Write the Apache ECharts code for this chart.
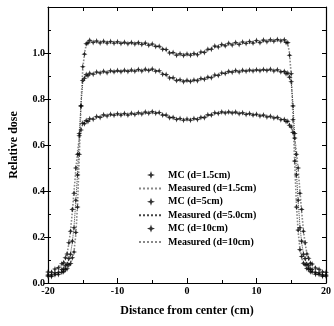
<!DOCTYPE html>
<html>
<head>
<meta charset="utf-8">
<script src="https://cdn.jsdelivr.net/npm/echarts@6/dist/echarts.min.js"></script>
<style>
  html, body { margin: 0; padding: 0; background: #fff; }
  #chart { width: 334px; height: 326px; }
</style>
</head>
<body>
<div id="chart"></div>
<script>
// sample positions (cm from centre)
const xs = [-20,-19.5,-19,-18.5,-18,-17.75,-17.5,-17.25,-17,-16.75,-16.5,-16.25,-16,-15.75,-15.5,-15.25,-15,-14.75,-14.5,-14.25,
  -14,-13.5,-13,-12.5,-12,-11.5,-11,-10.5,-10,-9.5,-9,-8.5,-8,-7.5,-7,-6.5,-6,-5.5,-5,-4.5,-4,-3.5,-3,-2.5,-2,-1.5,-1,-0.5,
  0,0.5,1,1.5,2,2.5,3,3.5,4,4.5,5,5.5,6,6.5,7,7.5,8,8.5,9,9.5,10,10.5,11,11.5,12,12.5,13,13.5,14,
  14.25,14.5,14.75,15,15.25,15.5,15.75,16,16.25,16.5,16.75,17,17.25,17.5,17.75,18,18.5,19,19.5,20];

// measured profiles
const meas15 = [0.027,0.030,0.034,0.039,0.045,0.050,0.056,0.064,0.075,0.088,0.105,0.140,0.210,0.340,0.550,0.780,0.930,1.000,1.035,1.047,
  1.050,1.052,1.048,1.050,1.047,1.049,1.046,1.048,1.045,1.046,1.043,1.045,1.042,1.044,1.041,1.043,1.040,1.038,1.036,1.032,
  1.026,1.020,1.012,1.004,0.998,0.995,0.993,0.994,0.992,0.995,0.993,0.997,1.000,1.006,1.012,1.020,1.026,1.030,1.033,1.036,
  1.038,1.040,1.042,1.041,1.044,1.046,1.045,1.048,1.050,1.049,1.052,1.054,1.053,1.056,1.055,1.057,1.054,
  1.050,1.040,1.000,0.900,0.720,0.520,0.340,0.220,0.150,0.110,0.090,0.076,0.066,0.058,0.052,0.046,0.040,0.035,0.031,0.028];
const meas5 = [0.033,0.037,0.042,0.048,0.056,0.063,0.072,0.085,0.102,0.130,0.175,0.250,0.350,0.480,0.640,0.780,0.870,0.895,0.902,0.905,
  0.908,0.912,0.914,0.916,0.918,0.917,0.920,0.921,0.920,0.922,0.921,0.923,0.922,0.924,0.925,0.924,0.926,0.927,0.927,0.925,
  0.920,0.912,0.903,0.895,0.889,0.884,0.881,0.879,0.878,0.879,0.880,0.883,0.886,0.889,0.892,0.895,0.900,0.905,0.910,0.914,
  0.917,0.919,0.921,0.920,0.922,0.924,0.923,0.925,0.924,0.926,0.925,0.927,0.926,0.925,0.924,0.921,0.917,
  0.914,0.910,0.900,0.870,0.780,0.640,0.480,0.350,0.250,0.175,0.130,0.102,0.085,0.072,0.063,0.056,0.048,0.042,0.037,0.033];
const meas10 = [0.045,0.050,0.058,0.068,0.080,0.090,0.105,0.130,0.170,0.230,0.310,0.400,0.490,0.570,0.630,0.670,0.690,0.697,0.702,0.706,
  0.710,0.716,0.720,0.724,0.727,0.729,0.731,0.732,0.733,0.733,0.734,0.733,0.735,0.736,0.737,0.738,0.740,0.741,0.742,0.741,
  0.738,0.733,0.727,0.722,0.717,0.714,0.712,0.711,0.710,0.711,0.712,0.714,0.717,0.722,0.728,0.733,0.737,0.740,0.741,0.742,
  0.741,0.742,0.740,0.739,0.737,0.736,0.734,0.733,0.731,0.729,0.727,0.725,0.722,0.720,0.717,0.713,0.708,
  0.705,0.700,0.690,0.675,0.660,0.625,0.570,0.490,0.400,0.310,0.230,0.170,0.130,0.105,0.090,0.080,0.068,0.058,0.050,0.045];

// Monte Carlo profiles
const mc15 = [0.030,0.028,0.036,0.037,0.047,0.049,0.058,0.062,0.078,0.085,0.110,0.135,0.220,0.330,0.560,0.770,0.940,0.995,1.040,1.044,
  1.055,1.046,1.052,1.044,1.051,1.043,1.050,1.042,1.049,1.041,1.047,1.040,1.046,1.039,1.045,1.037,1.043,1.034,1.039,1.028,
  1.029,1.016,1.015,1.000,1.002,0.990,0.997,0.989,0.996,0.990,0.998,0.992,1.004,1.002,1.016,1.016,1.030,1.026,1.037,1.031,
  1.042,1.035,1.046,1.037,1.048,1.041,1.050,1.043,1.054,1.045,1.056,1.049,1.058,1.051,1.059,1.052,1.058,
  1.046,1.045,0.990,0.910,0.710,0.530,0.330,0.230,0.145,0.115,0.086,0.079,0.063,0.060,0.049,0.048,0.038,0.037,0.029,0.030];
const mc5 = [0.035,0.035,0.044,0.046,0.059,0.061,0.075,0.082,0.106,0.125,0.182,0.240,0.360,0.470,0.650,0.770,0.880,0.890,0.906,0.901,
  0.912,0.908,0.917,0.913,0.921,0.914,0.923,0.918,0.924,0.919,0.925,0.920,0.926,0.921,0.928,0.922,0.929,0.924,0.930,0.921,
  0.923,0.908,0.906,0.891,0.892,0.880,0.884,0.875,0.881,0.876,0.883,0.879,0.889,0.886,0.895,0.892,0.904,0.902,0.913,0.911,
  0.920,0.916,0.924,0.917,0.925,0.921,0.926,0.922,0.927,0.923,0.928,0.924,0.929,0.922,0.927,0.918,0.920,
  0.910,0.913,0.895,0.875,0.770,0.650,0.470,0.360,0.240,0.182,0.125,0.106,0.082,0.075,0.061,0.059,0.046,0.044,0.035,0.035];
const mc10 = [0.048,0.047,0.061,0.066,0.084,0.088,0.110,0.126,0.175,0.225,0.320,0.390,0.500,0.560,0.640,0.665,0.695,0.692,0.706,0.702,
  0.714,0.712,0.724,0.720,0.731,0.726,0.734,0.729,0.736,0.730,0.737,0.730,0.738,0.733,0.740,0.735,0.743,0.738,0.745,0.738,
  0.741,0.730,0.730,0.719,0.720,0.711,0.715,0.708,0.713,0.708,0.715,0.711,0.720,0.719,0.731,0.730,0.740,0.737,0.744,0.739,
  0.744,0.739,0.743,0.736,0.740,0.733,0.737,0.730,0.734,0.726,0.730,0.722,0.725,0.717,0.720,0.710,0.711,
  0.702,0.703,0.686,0.678,0.655,0.630,0.560,0.500,0.390,0.320,0.225,0.175,0.126,0.108,0.086,0.083,0.065,0.060,0.048,0.047];

const names = ["MC (d=1.5cm)", "Measured (d=1.5cm)", "MC (d=5cm)", "Measured (d=5.0cm)", "MC (d=10cm)", "Measured (d=10cm)"];
const xTicks = [-20, -10, 0, 10, 20];

const font = "Liberation Serif";
const star = "path://M5,0L6.3,3.7L10,5L6.3,6.3L5,10L3.7,6.3L0,5L3.7,3.7Z";
const pts = arr => xs.map((x, i) => [x, arr[i]]);

const measLine = (name, arr, color, width) => ({
  name, type: "line", data: pts(arr), symbol: "none", showSymbol: false, z: 2,
  lineStyle: {color, width, type: "dotted"}, itemStyle: {color}
});
const mcDots = (name, arr) => ({
  name, type: "scatter", data: pts(arr), symbol: star, symbolSize: 6, z: 3,
  itemStyle: {color: "#000"}
});

const chart = echarts.init(document.getElementById("chart"), null, {renderer: "canvas"});
chart.setOption({
  animation: false,
  backgroundColor: "#fff",
  grid: {left: 46, right: 4, top: 7, bottom: 43},
  legend: {
    orient: "vertical", left: 138, top: 170, padding: 0, itemWidth: 24, itemHeight: 8, itemGap: 3.4,
    data: names.map((n, i) => i % 2 ? {name: n, itemStyle: {opacity: 0}} : {name: n}),
    textStyle: {fontFamily: font, fontWeight: "bold", fontSize: 10, lineHeight: 10, color: "#000"}
  },
  xAxis: [{
    type: "value", position: "bottom", min: -20, max: 20, interval: 10,
    name: "Distance from center (cm)", nameLocation: "middle", nameGap: 22,
    nameTextStyle: {fontFamily: font, fontWeight: "bold", fontSize: 12, color: "#000"},
    axisLine: {onZero: false, lineStyle: {color: "#000", width: 1.2}},
    axisTick: {inside: true, length: 5, lineStyle: {color: "#000"}},
    minorTick: {show: true, splitNumber: 2, length: 3, lineStyle: {color: "#000"}},
    axisLabel: {margin: 3, fontFamily: font, fontWeight: "bold", fontSize: 10, color: "#000",
      formatter: v => xTicks.includes(v) ? String(v) : ""},
    splitLine: {show: false}
  }, {
    type: "value", position: "top", min: -20, max: 20, interval: 5,
    axisLine: {onZero: false, lineStyle: {color: "#000", width: 1.2}},
    axisTick: {inside: true, length: 4, lineStyle: {color: "#000"}},
    axisLabel: {show: false}, splitLine: {show: false}
  }],
  yAxis: [{
    type: "value", position: "left", min: 0, max: 1.2, interval: 0.2,
    name: "Relative dose", nameLocation: "middle", nameGap: 28,
    nameTextStyle: {fontFamily: font, fontWeight: "bold", fontSize: 12, color: "#000"},
    axisLine: {show: true, onZero: false, lineStyle: {color: "#000", width: 1.2}},
    axisTick: {show: true, length: 4, lineStyle: {color: "#000"}},
    axisLabel: {margin: 3, showMaxLabel: false, fontFamily: font, fontWeight: "bold", fontSize: 10, color: "#000",
      formatter: v => v.toFixed(1)},
    splitLine: {show: false}
  }, {
    type: "value", position: "left", min: 0, max: 1.2, interval: 0.1,
    axisLine: {show: false, onZero: false},
    axisTick: {show: true, inside: true, length: 3, lineStyle: {color: "#000"}},
    axisLabel: {show: false}, splitLine: {show: false}
  }, {
    type: "value", position: "right", min: 0, max: 1.2, interval: 0.1,
    axisLine: {show: true, onZero: false, lineStyle: {color: "#000", width: 1.2}},
    axisTick: {show: true, inside: true, length: 4, lineStyle: {color: "#000"}},
    axisLabel: {show: false}, splitLine: {show: false}
  }],
  series: [
    mcDots(names[0], mc15),
    measLine(names[1], meas15, "#888", 1.6),
    mcDots(names[2], mc5),
    measLine(names[3], meas5, "#444", 1),
    mcDots(names[4], mc10),
    measLine(names[5], meas10, "#888", 1.6)
  ]
});
</script>
</body>
</html>
